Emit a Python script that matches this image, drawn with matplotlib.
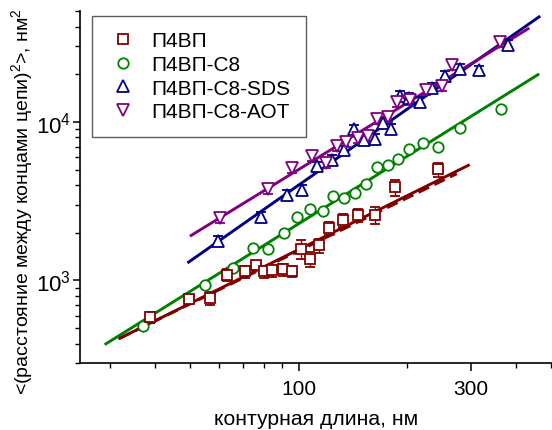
import matplotlib
matplotlib.use("Agg")
import matplotlib.pyplot as plt
import numpy as np
from matplotlib.lines import Line2D
from matplotlib.ticker import FixedLocator, NullFormatter, FixedFormatter, LogLocator

plt.rcParams["font.family"] = ["Liberation Sans", "DejaVu Sans"]
plt.rcParams["mathtext.fontset"] = "custom"
plt.rcParams["mathtext.rm"] = "Liberation Sans"
plt.rcParams["mathtext.default"] = "regular"

# ---------------------------------------------------------------------------
# Data
# ---------------------------------------------------------------------------
p4vp_x = [38.7, 49.5, 56.9, 63.4, 70.8, 76.2, 80.3, 84.3, 90.4, 95.8,
          101.1, 107.4, 113.9, 121.6, 132.4, 145.5, 162.8, 184.2, 242.8]
p4vp_y = [587, 766, 773, 1086, 1140, 1244, 1140, 1157, 1173, 1140,
          1585, 1370, 1664, 2141, 2416, 2573, 2598, 3886, 5023]
p4vp_err = [45, 40, 70, 90, 100, 80, 100, 100, 100, 90,
            220, 150, 170, 200, 230, 250, 330, 450, 500]

c8_x = [37.0, 55.1, 65.6, 74.5, 82.4, 91.0, 98.9, 107.7, 116.5, 124.6, 133.0,
        143.2, 153.2, 164.6, 176.9, 188.4, 201.5, 220.5, 243.4, 279.7, 362.2]
c8_y = [515, 939, 1196, 1600, 1585, 1991, 2512, 2822, 2754, 3409, 3328,
        3578, 4078, 5198, 5325, 5810, 6786, 7369, 6985, 9165, 12140]

sds_x = [59.7, 78.6, 92.9, 102.0, 112.1, 123.2, 133.0, 142.3, 151.5, 162.4,
         171.1, 180.2, 190.5, 201.5, 217.0, 233.3, 254.0, 279.1, 315.8, 380.6]
sds_y = [1772, 2512, 3476, 3737, 5248, 5782, 6622, 8990, 7734, 7848,
         9904, 9077, 14600, 14250, 13380, 16400, 19530, 21720, 21200, 30790]

aot_x = [60.3, 82.4, 96.0, 108.7, 118.9, 127.2, 135.4, 145.5, 155.0,
         164.6, 176.1, 187.6, 202.9, 225.5, 249.5, 265.7, 361.4]
aot_y = [2476, 3755, 5123, 6070, 5536, 7020, 7475, 7924, 8157,
         10400, 10750, 13380, 13700, 15850, 16880, 22800, 32000]

# power-law fits: y = y100 * (x / 100) ** slope over [x_start, x_end]
fit_names = ["p4vp", "p4vp_dash", "c8", "sds", "aot"]
fit_y100 = [1570, 1539, 2284, 4006, 5025]
fit_slope = [1.13, 1.112, 1.419, 1.594, 1.397]
fit_x_start = [31.9, 31.9, 29.2, 49.5, 50.3]
fit_x_end = [295, 274, 460, 463, 432]

labels = ["П4ВП", "П4ВП-С8", "П4ВП-С8-SDS", "П4ВП-С8-АОТ"]
colors = ["#800000", "#008000", "#000080", "#800080"]
markers = ["s", "o", "^", "v"]

x_major = [100, 300]
x_minor = [30, 40, 50, 60, 70, 80, 90, 200, 400, 500]

# ---------------------------------------------------------------------------
# Figure
# ---------------------------------------------------------------------------
fig = plt.figure(figsize=(5.52, 4.31), dpi=100)
ax = fig.add_axes([0.1455, 0.1547, 0.8545, 0.8168])


def fit_line(i):
    xs = np.geomspace(fit_x_start[i], fit_x_end[i], 50)
    return xs, fit_y100[i] * (xs / 100.0) ** fit_slope[i]


fit_color = [colors[0], colors[0], colors[1], colors[2], colors[3]]
fit_style = ["-", (0, (4, 2)), "-", "-", "-"]
for i in range(len(fit_names)):
    xs, ys = fit_line(i)
    ax.plot(xs, ys, color=fit_color[i], lw=2.1, ls=fit_style[i], zorder=2)

mk = dict(mfc="white", mew=1.3, ls="none", zorder=4)
eb = dict(elinewidth=1.0, capsize=3.5, capthick=1.0)
ax.errorbar(p4vp_x, p4vp_y, yerr=p4vp_err, fmt="s", color=colors[0], ms=6.5,
            ecolor=colors[0], **eb, **mk)
ax.plot(c8_x, c8_y, "o", color=colors[1], ms=7.5, **mk)
sds_err = [0.07 * v for v in sds_y]
aot_err = [0.07 * v for v in aot_y]
ax.errorbar(sds_x, sds_y, yerr=sds_err, fmt="^", color=colors[2], ms=8,
            ecolor=colors[2], **eb, **mk)
ax.errorbar(aot_x, aot_y, yerr=aot_err, fmt="v", color=colors[3], ms=8,
            ecolor=colors[3], **eb, **mk)

ax.set_xscale("log")
ax.set_yscale("log")
ax.set_xlim(24.8, 503)
ax.set_ylim(300, 50000)

ax.xaxis.set_major_locator(FixedLocator(x_major))
ax.xaxis.set_major_formatter(FixedFormatter([str(v) for v in x_major]))
ax.xaxis.set_minor_locator(FixedLocator(x_minor))
ax.xaxis.set_minor_formatter(NullFormatter())
ax.yaxis.set_major_locator(LogLocator(base=10, numticks=10))
ax.yaxis.set_minor_locator(LogLocator(base=10, subs=np.arange(2, 10), numticks=20))
ax.yaxis.set_minor_formatter(NullFormatter())

for s in ["top", "right"]:
    ax.spines[s].set_visible(False)
for s in ["left", "bottom"]:
    ax.spines[s].set_linewidth(1.2)
ax.tick_params(which="major", direction="out", length=6, width=1.1, labelsize=15)
ax.tick_params(axis="x", which="major", pad=5)
ax.tick_params(axis="y", which="major", length=5, pad=2, labelsize=16)
ax.tick_params(which="minor", direction="out", length=3.5, width=1.0)

ax.set_xlabel("контурная длина, нм", fontsize=15.2, labelpad=8)
ax.set_ylabel("<(расстояние между концами цепи)$^2$>, нм$^2$", fontsize=14)
ax.yaxis.set_label_coords(-0.096, 0.461)

handles = [Line2D([], [], marker=m, color=c, mfc="white", mew=1.3, ls="none", ms=s)
           for m, c, s in zip(markers, colors, [6.5, 7.5, 8, 8])]
leg = ax.legend(handles, labels, loc="upper left", bbox_to_anchor=(0.025, 0.987),
                fontsize=15, frameon=True, fancybox=False, edgecolor="#333333",
                handlelength=1.5, handletextpad=0.6, labelspacing=0.22,
                borderpad=0.75, borderaxespad=0)
leg.get_frame().set_linewidth(1.0)

fig.savefig("out.png", dpi=100)
